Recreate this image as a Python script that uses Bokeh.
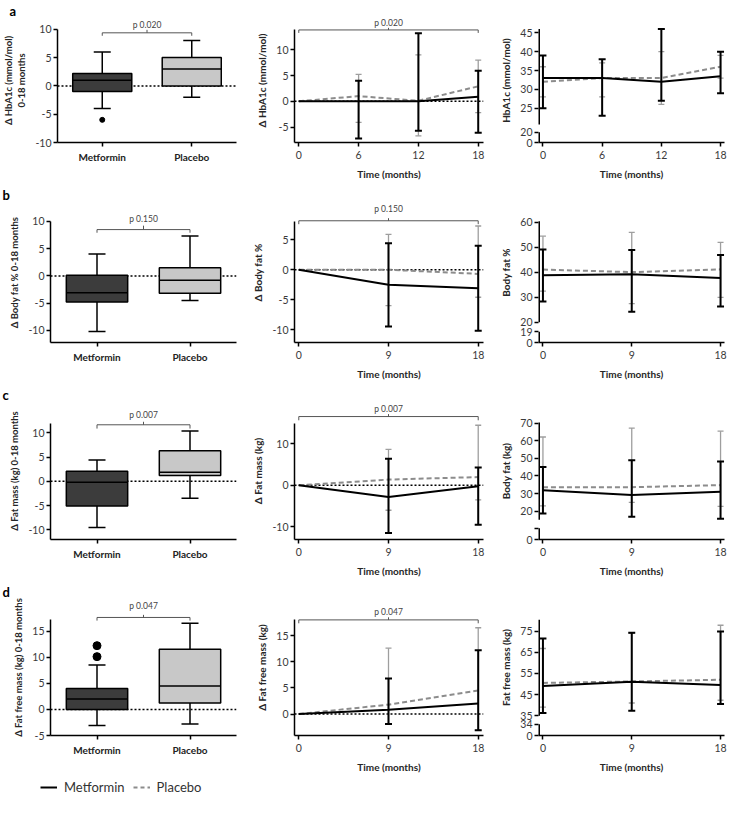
import numpy as np
from bokeh.plotting import figure
from bokeh.models import (Range1d, FixedTicker, Span, Label, Legend, LegendItem,
                          NumeralTickFormatter, Title)
from bokeh.layouts import column, row
from bokeh.embed import file_html
from bokeh.resources import INLINE

# ---------------- data ----------------
groups = ["Metformin", "Placebo"]
panel_letters = ["a", "b", "c", "d"]
p_labels = ["p 0.020", "p 0.150", "p 0.007", "p 0.047"]
time_label = "Time (months)"

box_ylabels = ["\u0394 HbA1c (mmol/mol)\n0-18 months", "\u0394 Body fat % 0-18 months",
               "\u0394 Fat mass (kg) 0-18 months", "\u0394 Fat free mass (kg) 0-18 months"]
delta_ylabels = ["\u0394 HbA1c (mmol/mol)", "\u0394 Body fat %", "\u0394 Fat mass (kg)", "\u0394 Fat free mass (kg)"]
abs_ylabels = ["HbA1c (mmol/mol)", "Body fat %", "Body fat (kg)", "Fat free mass (kg)"]

# box summaries: whisker low, Q1, median, Q3, whisker high
hba1c_box_met = [-4.0, -1.0, 1.0, 2.2, 6.0]
hba1c_box_pla = [-2.0, 0.0, 3.0, 5.0, 8.0]
hba1c_out_met = [-6.0]
hba1c_out_pla = []
bf_box_met = [-10.2, -4.8, -3.1, 0.1, 4.0]
bf_box_pla = [-4.5, -3.2, -0.8, 1.5, 7.3]
bf_out_met = []
bf_out_pla = []
fm_box_met = [-9.5, -5.1, -0.2, 2.1, 4.4]
fm_box_pla = [-3.5, 1.2, 1.9, 6.3, 10.4]
fm_out_met = []
fm_out_pla = []
ffm_box_met = [-3.1, 0.0, 2.0, 4.0, 8.5]
ffm_box_pla = [-2.8, 1.2, 4.5, 11.5, 16.5]
ffm_out_met = [10.1, 12.2]
ffm_out_pla = []

months_a = [0, 6, 12, 18]
months_b = [0, 9, 18]

# change from baseline: mean, lower, upper
d_hba1c_met = [0, 0.0, 0.0, 0.9]
d_hba1c_met_lo = [0, -7.2, -5.7, -6.1]
d_hba1c_met_hi = [0, 4.0, 13.2, 5.9]
d_hba1c_pla = [0, 1.0, 0.1, 2.9]
d_hba1c_pla_lo = [0, -4.1, -6.7, -2.2]
d_hba1c_pla_hi = [0, 5.2, 9.0, 8.0]

d_bf_met = [0, -2.5, -3.1]
d_bf_met_lo = [0, -9.5, -10.2]
d_bf_met_hi = [0, 4.4, 4.0]
d_bf_pla = [0, 0.0, -0.7]
d_bf_pla_lo = [0, -6.0, -4.6]
d_bf_pla_hi = [0, 5.9, 7.3]

d_fm_met = [0, -2.8, -0.2]
d_fm_met_lo = [0, -11.5, -9.5]
d_fm_met_hi = [0, 6.4, 4.3]
d_fm_pla = [0, 1.4, 2.0]
d_fm_pla_lo = [0, -6.0, -3.5]
d_fm_pla_hi = [0, 8.7, 14.5]

d_ffm_met = [0, 0.8, 2.0]
d_ffm_met_lo = [0, -1.9, -3.1]
d_ffm_met_hi = [0, 6.8, 12.2]
d_ffm_pla = [0, 1.8, 4.5]
d_ffm_pla_lo = [0, -1.9, -3.1]
d_ffm_pla_hi = [0, 12.6, 16.5]

# absolute values: mean, lower, upper
hba1c_met = [33.0, 33.0, 32.0, 33.5]
hba1c_met_lo = [25.0, 23.0, 27.0, 29.0]
hba1c_met_hi = [39.0, 38.0, 46.0, 40.0]
hba1c_pla = [32.0, 33.0, 33.0, 36.0]
hba1c_pla_lo = [28.0, 28.0, 26.0, 33.0]
hba1c_pla_hi = [36.0, 37.0, 40.0, 39.0]

bf_met = [38.8, 39.2, 37.7]
bf_met_lo = [28.3, 24.2, 26.3]
bf_met_hi = [49.2, 49.0, 47.0]
bf_pla = [41.1, 40.1, 41.2]
bf_pla_lo = [32.5, 27.5, 30.0]
bf_pla_hi = [54.5, 56.0, 52.0]

fm_met = [31.8, 29.2, 31.0]
fm_met_lo = [18.6, 16.8, 15.6]
fm_met_hi = [45.1, 49.0, 48.3]
fm_pla = [33.5, 33.6, 34.8]
fm_pla_lo = [23.0, 25.0, 22.7]
fm_pla_hi = [62.2, 67.3, 65.5]

ffm_met = [49.0, 51.0, 49.5]
ffm_met_lo = [36.3, 37.3, 40.5]
ffm_met_hi = [71.5, 74.2, 74.8]
ffm_pla = [50.5, 51.2, 52.0]
ffm_pla_lo = [39.0, 41.0, 42.3]
ffm_pla_hi = [66.8, 74.0, 77.8]

# tick labels
box_yticks = [[-10, -5, 0, 5, 10], [-10, -5, 0, 5, 10], [-10, -5, 0, 5, 10], [-5, 0, 5, 10, 15]]
delta_yticks = [[-5, 0, 5, 10], [-10, -5, 0, 5], [-10, 0, 10], [0, 5, 10, 15]]
abs_yticks = [[25, 30, 35, 40, 45], [20, 30, 40, 50, 60], [20, 30, 40, 50, 60, 70], [35, 45, 55, 65, 75]]
abs_break_labels = [["0", "20"], ["0", "19"], ["0", ""], ["0", "34"]]

# ---------------- layout / style config ----------------
FONT = "Lato"
MET_COLOR = "black"
PLA_COLOR = "#8c8c8c"
PLA_BAR = "#9e9e9e"
BOX_FILL = ["#3c3c3c", "#c8c8c8"]
TEXT_COLOR = "#3a3a3a"

COL_W = [239, 246, 244]
BORDER_L = [50, 55, 53]
BORDER_R = [3, 2, 5]
ROW_H = [184, 200, 197, 196]
TOP = 16
BOTTOM = 42
LEGEND_H = 20

box_xrange = (0, 2)
delta_xrange = (-0.43, 18.53)
abs_xrange = (-0.45, 18.4)

box_yrange = [(-10, 11.9), (-12.2, 13.44), (-12, 16.28), (-5, 21.04)]
box_ytop = [10, 10, 12, 17.2]
box_bracket = [(9.37, 8.85, 9.9, 10.8), (8.48, 7.9, 9.2, 10.4), (11.68, 10.9, 12.3, 13.6), (17.6, 17.0, 18.1, 19.8)]
delta_yrange = [(-8, 16.06), (-12.15, 11.22), (-13.06, 19.99), (-4.1, 21.9)]
delta_ytop = [14, 8, 15, 18.1]
delta_bracket = [(13.84, 13.26, 14.25, 15.2), (8.17, 7.6, 8.6, 10.1), (16.6, 15.7, 17.2, 18.4), (18.0, 17.35, 18.5, 19.6)]
abs_yrange = [(15.9, 48.8), (11.9, 67.98), (3.8, 81.86), (25.6, 90.0)]
abs_upper = [(20.7, 46), (20, 60.5), (15.1, 70.5), (35, 80.4)]
abs_break_pos = [(15.9, 18.6), (11.9, 16.2), (3.8, 10.2), (25.6, 30.9)]
outlier_size = [5, 5, 5, 8]

box_data = [
    (hba1c_box_met, hba1c_box_pla, hba1c_out_met, hba1c_out_pla),
    (bf_box_met, bf_box_pla, bf_out_met, bf_out_pla),
    (fm_box_met, fm_box_pla, fm_out_met, fm_out_pla),
    (ffm_box_met, ffm_box_pla, ffm_out_met, ffm_out_pla),
]
delta_data = [
    (months_a, (d_hba1c_met, d_hba1c_met_lo, d_hba1c_met_hi), (d_hba1c_pla, d_hba1c_pla_lo, d_hba1c_pla_hi)),
    (months_b, (d_bf_met, d_bf_met_lo, d_bf_met_hi), (d_bf_pla, d_bf_pla_lo, d_bf_pla_hi)),
    (months_b, (d_fm_met, d_fm_met_lo, d_fm_met_hi), (d_fm_pla, d_fm_pla_lo, d_fm_pla_hi)),
    (months_b, (d_ffm_met, d_ffm_met_lo, d_ffm_met_hi), (d_ffm_pla, d_ffm_pla_lo, d_ffm_pla_hi)),
]
abs_data = [
    (months_a, (hba1c_met, hba1c_met_lo, hba1c_met_hi), (hba1c_pla, hba1c_pla_lo, hba1c_pla_hi)),
    (months_b, (bf_met, bf_met_lo, bf_met_hi), (bf_pla, bf_pla_lo, bf_pla_hi)),
    (months_b, (fm_met, fm_met_lo, fm_met_hi), (fm_pla, fm_pla_lo, fm_pla_hi)),
    (months_b, (ffm_met, ffm_met_lo, ffm_met_hi), (ffm_pla, ffm_pla_lo, ffm_pla_hi)),
]


def make_fig(ci, ri, xr, yr, letter=None):
    title = None
    if letter:
        title = Title(text=letter, align="left", offset=-(BORDER_L[ci] - 2), standoff=0,
                      text_font=FONT, text_font_size="13px", text_font_style="bold",
                      text_color="black", vertical_align="bottom")
    p = figure(width=COL_W[ci], height=ROW_H[ri], x_range=Range1d(*xr), y_range=Range1d(*yr),
               output_backend="svg", toolbar_location=None, title=title,
               min_border_left=BORDER_L[ci], min_border_right=BORDER_R[ci],
               min_border_top=TOP, min_border_bottom=BOTTOM)
    p.outline_line_color = None
    p.xgrid.visible = False
    p.ygrid.visible = False
    p.background_fill_color = "white"
    p.border_fill_color = "white"
    return p


def style_axes(p, xticks, yticks, xlabel, ylabel, ylabel_size="10px", xover=None, yover=None, ybounds=None):
    for ax in (p.xaxis[0], p.yaxis[0]):
        ax.minor_tick_line_color = None
        ax.major_tick_in = 0
        ax.major_tick_out = 4
        ax.major_tick_line_width = 1.5
        ax.axis_line_width = 1.5
        ax.major_tick_line_color = "black"
        ax.axis_line_color = "black"
        ax.major_label_text_font = FONT
        ax.major_label_text_font_size = "10.5px"
        ax.major_label_text_color = TEXT_COLOR
        ax.axis_label_text_font = FONT
        ax.axis_label_text_font_style = "bold"
        ax.axis_label_text_color = "#262626"
        ax.axis_label_text_font_size = "10px"
    xa, ya = p.xaxis[0], p.yaxis[0]
    xa.ticker = FixedTicker(ticks=list(xticks))
    xa.major_label_standoff = 4
    xa.axis_label = xlabel
    xa.axis_label_standoff = 6
    if xover:
        xa.major_label_overrides = xover
        xa.major_label_text_font_style = "bold"
        xa.major_label_text_font_size = "10px"
        xa.major_label_text_color = "#222222"
    ya.ticker = FixedTicker(ticks=list(yticks))
    ya.formatter = NumeralTickFormatter(format="0")
    ya.major_label_standoff = 2
    ya.axis_label = ylabel
    ya.axis_label_standoff = 5
    ya.axis_label_text_font_size = ylabel_size
    if yover:
        ya.major_label_overrides = yover
    if ybounds is not None:
        ya.bounds = ybounds


def add_bracket(p, x0, x1, br, label):
    yl, yd, yu, yt = br
    xc = (x0 + x1) / 2
    p.segment(x0=[x0, x0, x1, xc], x1=[x1, x0, x1, xc], y0=[yl, yl, yl, yl], y1=[yl, yd, yd, yu],
              line_color="#555555", line_width=1)
    p.add_layout(Label(x=xc, y=yt, text=label, text_align="center", text_baseline="middle",
                       text_font=FONT, text_font_size="8.5px", text_color="#444444"))


def zero_line(p):
    p.add_layout(Span(location=0, dimension="width", line_color="black", line_dash="2 2",
                      line_width=1.5, level="underlay"))


def box_panel(ri):
    met, pla, out_met, out_pla = box_data[ri]
    xr, yr = box_xrange, box_yrange[ri]
    p = make_fig(0, ri, xr, yr, letter=panel_letters[ri])
    pos = np.arange(len(groups)) + 0.5
    lo, q1, med, q3, hi = np.array([met, pla], dtype=float).T
    zero_line(p)
    p.segment(x0=pos, x1=pos, y0=q3, y1=hi, line_color="black", line_width=1.5)
    p.segment(x0=pos, x1=pos, y0=lo, y1=q1, line_color="black", line_width=1.5)
    p.scatter(x=np.r_[pos, pos], y=np.r_[lo, hi], marker="dash", size=17, line_color="black", line_width=1.5)
    p.vbar(x=pos, width=0.66, bottom=q1, top=q3, fill_color=BOX_FILL, line_color="black", line_width=1.5)
    p.segment(x0=pos - 0.33, x1=pos + 0.33, y0=med, y1=med, line_color="black", line_width=1.5)
    ox = [pos[0]] * len(out_met) + [pos[1]] * len(out_pla)
    oy = list(out_met) + list(out_pla)
    if oy:
        p.scatter(x=ox, y=oy, marker="circle", size=outlier_size[ri], fill_color="black", line_color="black")
    style_axes(p, pos, box_yticks[ri], None, box_ylabels[ri], ylabel_size="9.5px",
               xover={float(x): g for x, g in zip(pos, groups)}, ybounds=(yr[0], box_ytop[ri]))
    add_bracket(p, pos[0], pos[1], box_bracket[ri], p_labels[ri])
    return p


def series(p, x, stats, color, bar_color, bar_w, cap, dash=None):
    mean, lo, hi = (np.array(v, dtype=float) for v in stats)
    m = hi > lo
    p.segment(x0=x[m], x1=x[m], y0=lo[m], y1=hi[m], line_color=bar_color, line_width=bar_w)
    p.scatter(x=np.r_[x[m], x[m]], y=np.r_[lo[m], hi[m]], marker="dash", size=cap,
              line_color=bar_color, line_width=bar_w)
    if dash:
        p.line(x, mean, line_color=color, line_width=2, line_dash=dash)
    else:
        p.line(x, mean, line_color=color, line_width=2)


def delta_panel(ri):
    months, met, pla = delta_data[ri]
    xr, yr = delta_xrange, delta_yrange[ri]
    p = make_fig(1, ri, xr, yr)
    x = np.array(months, dtype=float)
    zero_line(p)
    series(p, x, pla, PLA_COLOR, PLA_BAR, 1.3, 6, dash="5 3")
    series(p, x, met, MET_COLOR, "black", 2, 7)
    style_axes(p, months, delta_yticks[ri], time_label, delta_ylabels[ri], ybounds=(yr[0], delta_ytop[ri]))
    add_bracket(p, months[0], months[-1], delta_bracket[ri], p_labels[ri])
    return p


def abs_panel(ri):
    months, met, pla = abs_data[ri]
    xr, yr = abs_xrange, abs_yrange[ri]
    p = make_fig(2, ri, xr, yr)
    x = np.array(months, dtype=float)
    series(p, x, pla, PLA_COLOR, PLA_BAR, 1.3, 6, dash="5 3")
    series(p, x, met, MET_COLOR, "black", 2, 7)
    lo0, lo1 = abs_break_pos[ri]
    up0, up1 = abs_upper[ri]
    ticks = [lo0, lo1] + abs_yticks[ri]
    over = {float(lo0): abs_break_labels[ri][0], float(lo1): abs_break_labels[ri][1]}
    style_axes(p, months, ticks, time_label, abs_ylabels[ri], yover=over)
    p.yaxis[0].axis_line_color = None
    # broken y axis line (two pieces) drawn at the frame's left edge
    p.segment(x0=[xr[0], xr[0]], x1=[xr[0], xr[0]], y0=[up0, lo0], y1=[up1, lo1],
              line_color="black", line_width=3)
    return p


def legend_fig():
    # legend-only panel; its two line renderers lie outside the visible ranges
    lp = figure(width=COL_W[0], height=LEGEND_H, x_range=Range1d(-100, -99), y_range=Range1d(-100, -99),
                output_backend="svg", toolbar_location=None, title=None,
                x_axis_type=None, y_axis_type=None, min_border=0)
    lp.outline_line_color = None
    lp.xgrid.visible = False
    lp.ygrid.visible = False
    lp.background_fill_alpha = 0
    lp.border_fill_alpha = 0
    r1 = lp.line(x=months_b, y=ffm_met, line_color=MET_COLOR, line_width=2)
    r2 = lp.line(x=months_b, y=ffm_pla, line_color=PLA_COLOR, line_width=2, line_dash="4 3")
    leg = Legend(items=[LegendItem(label=groups[0], renderers=[r1]),
                        LegendItem(label=groups[1], renderers=[r2])],
                 orientation="horizontal", location=(40, 1), border_line_color=None,
                 background_fill_alpha=0, label_text_font=FONT, label_text_font_size="13px",
                 label_text_color="#333333", glyph_width=17, glyph_height=18, label_height=18,
                 spacing=8, padding=0, margin=0, label_standoff=7)
    lp.add_layout(leg)
    return lp


rows = []
for ri in range(4):
    rows.append(row(box_panel(ri), delta_panel(ri), abs_panel(ri)))
rows.append(legend_fig())
layout = column(*rows)

open("out.html", "w").write(file_html(layout, INLINE, title="Metformin vs placebo"))
